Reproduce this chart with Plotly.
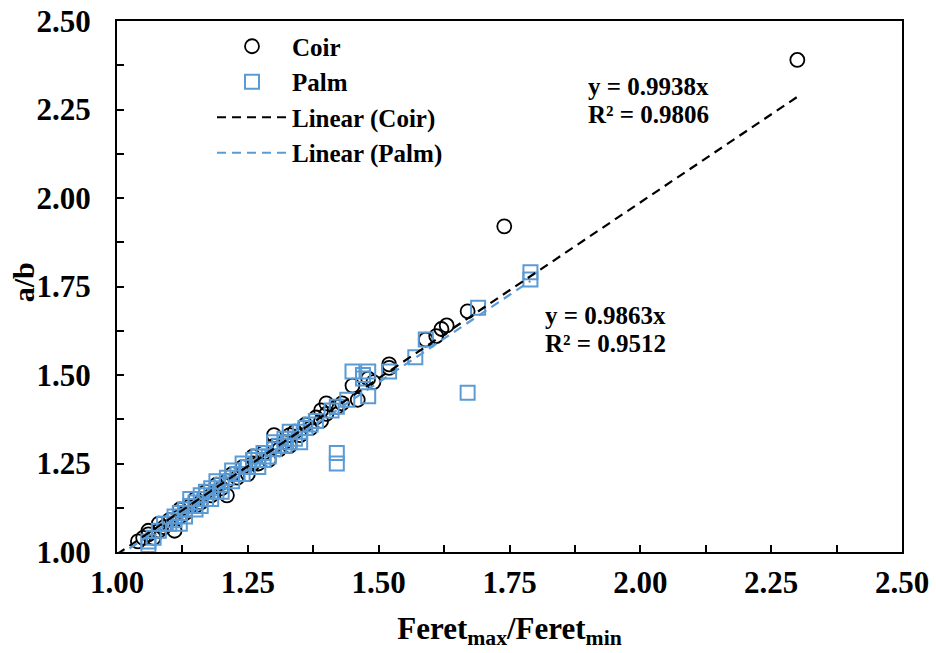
import plotly.graph_objects as go

# Coir fibres: Feret max/min ratio vs ellipse axis ratio a/b
coir_x = [1.04, 1.05, 1.06, 1.06, 1.07, 1.08, 1.08, 1.09, 1.10, 1.11, 1.12, 1.12,
          1.13, 1.14, 1.15, 1.15, 1.16, 1.17, 1.18, 1.19, 1.20, 1.21, 1.21, 1.22,
          1.23, 1.24, 1.25, 1.26, 1.26, 1.27, 1.28, 1.29, 1.30, 1.30, 1.31, 1.32,
          1.33, 1.33, 1.34, 1.35, 1.36, 1.37, 1.38, 1.39, 1.39, 1.40, 1.40, 1.42,
          1.43, 1.45, 1.46, 1.48, 1.49, 1.52, 1.52, 1.59, 1.61, 1.62, 1.63, 1.67,
          1.74, 2.30]
coir_y = [1.03, 1.04, 1.05, 1.06, 1.04, 1.06, 1.08, 1.07, 1.09, 1.06, 1.10, 1.12,
          1.11, 1.13, 1.13, 1.15, 1.14, 1.17, 1.16, 1.19, 1.18, 1.16, 1.20, 1.22,
          1.21, 1.24, 1.22, 1.25, 1.27, 1.25, 1.28, 1.26, 1.30, 1.33, 1.29, 1.31,
          1.33, 1.30, 1.34, 1.33, 1.36, 1.35, 1.38, 1.37, 1.40, 1.42, 1.39, 1.41,
          1.42, 1.47, 1.43, 1.49, 1.48, 1.53, 1.52, 1.60, 1.61, 1.63, 1.64, 1.68,
          1.92, 2.39]

# Palm fibres
palm_x = [1.06, 1.06, 1.07, 1.08, 1.09, 1.10, 1.11, 1.11, 1.12, 1.12, 1.13, 1.13,
          1.14, 1.14, 1.15, 1.15, 1.16, 1.16, 1.17, 1.17, 1.18, 1.18, 1.19, 1.19,
          1.20, 1.20, 1.21, 1.22, 1.22, 1.23, 1.24, 1.24, 1.25, 1.26, 1.27, 1.27,
          1.28, 1.28, 1.29, 1.30, 1.30, 1.31, 1.32, 1.32, 1.33, 1.33, 1.34, 1.35,
          1.35, 1.36, 1.37, 1.38, 1.41, 1.42, 1.42, 1.42, 1.44, 1.45, 1.47, 1.47,
          1.48, 1.48, 1.52, 1.57, 1.59, 1.67, 1.69, 1.79, 1.79]
palm_y = [1.02, 1.03, 1.04, 1.06, 1.08, 1.08, 1.10, 1.09, 1.08, 1.11, 1.12, 1.10,
          1.13, 1.15, 1.12, 1.14, 1.16, 1.13, 1.15, 1.17, 1.18, 1.15, 1.17, 1.20,
          1.19, 1.17, 1.21, 1.20, 1.23, 1.22, 1.22, 1.25, 1.24, 1.26, 1.24, 1.27,
          1.26, 1.28, 1.27, 1.29, 1.31, 1.30, 1.30, 1.32, 1.31, 1.34, 1.32, 1.34,
          1.31, 1.35, 1.36, 1.37, 1.40, 1.41, 1.28, 1.25, 1.43, 1.51, 1.50, 1.49,
          1.51, 1.44, 1.51, 1.55, 1.60, 1.45, 1.69, 1.79, 1.77]

# Linear trendlines through the origin
coir_slope, coir_r2 = 0.9938, 0.9806
palm_slope, palm_r2 = 0.9863, 0.9512
coir_fit_x = [1.00, max(coir_x)]
palm_fit_x = [1.00, max(palm_x)]

tick_vals = [1.00, 1.25, 1.50, 1.75, 2.00, 2.25, 2.50]
tick_text = [f"{v:.2f}" for v in tick_vals]

BLUE = "#5B9BD5"
FONT = "Liberation Serif"

fig = go.Figure()
fig.add_trace(go.Scatter(
    x=coir_x, y=coir_y, mode="markers", name="Coir",
    marker=dict(symbol="circle-open", size=14, color="black", line=dict(width=1.8, color="black")),
))
fig.add_trace(go.Scatter(
    x=palm_x, y=palm_y, mode="markers", name="Palm",
    marker=dict(symbol="square-open", size=14, color=BLUE, line=dict(width=2, color=BLUE)),
))
fig.add_trace(go.Scatter(
    x=coir_fit_x, y=[coir_slope * v for v in coir_fit_x], mode="lines",
    name="Linear (Coir)",
    line=dict(color="black", width=2.2, dash="9px,6px"),
))
fig.add_trace(go.Scatter(
    x=palm_fit_x, y=[palm_slope * v for v in palm_fit_x], mode="lines",
    name="Linear (Palm)",
    line=dict(color=BLUE, width=2.2, dash="9px,6px"),
))

L, R, T, B = 117, 34, 20.5, 101
W, H = 936, 653
pw, ph = W - L - R, H - T - B


def px_x(p):
    return (p - L) / pw


def px_y(p):
    return (H - B - p) / ph


ann_font = dict(family=FONT, size=25, color="black", weight="bold")
annotations = [
    (586, 86, f"y = {coir_slope:.4f}x"),
    (586, 114, f"R² = {coir_r2:.4f}"),
    (543, 315, f"y = {palm_slope:.4f}x"),
    (543, 343, f"R² = {palm_r2:.4f}"),
]
for ax_, ay_, txt in annotations:
    fig.add_annotation(x=px_x(ax_), y=px_y(ay_), xref="paper", yref="paper",
                       text=txt, showarrow=False, xanchor="left", yanchor="middle",
                       font=ann_font)

# y-axis title placed beside the tick labels
fig.add_annotation(x=px_x(23), y=px_y(282), xref="paper", yref="paper",
                   text="a/b", textangle=-90, showarrow=False,
                   xanchor="center", yanchor="middle",
                   font=dict(family=FONT, size=30, color="black", weight="bold"))

axis_common = dict(
    range=[1.0, 2.5], tickvals=tick_vals, ticktext=tick_text,
    ticks="inside", ticklen=7, tickwidth=1.5, tickcolor="black",
    minor=dict(dtick=0.125, tick0=1.0, ticks="inside", ticklen=7, tickwidth=1.5, tickcolor="black"),
    showline=True, linecolor="black", linewidth=2, mirror=True,
    showgrid=False, zeroline=False, automargin=False,
    tickfont=dict(family=FONT, size=31, color="black", weight="bold"),
)

fig.update_xaxes(**axis_common, ticklabelstandoff=2,
                 title=dict(text="Feret<sub>max</sub>/Feret<sub>min</sub>", standoff=18,
                            font=dict(family=FONT, size=31, color="black", weight="bold")))
fig.update_yaxes(**axis_common, ticklabelstandoff=18)

fig.update_layout(
    width=W, height=H,
    margin=dict(l=L, r=R, t=T, b=B, pad=0),
    plot_bgcolor="white", paper_bgcolor="white",
    showlegend=True,
    legend=dict(
        x=px_x(212), y=px_y(23), xanchor="left", yanchor="top",
        bgcolor="rgba(0,0,0,0)", borderwidth=0,
        traceorder="normal", itemwidth=70,
        font=dict(family=FONT, size=25, color="black", weight="bold"),
    ),
)

fig.write_html("out.html")
